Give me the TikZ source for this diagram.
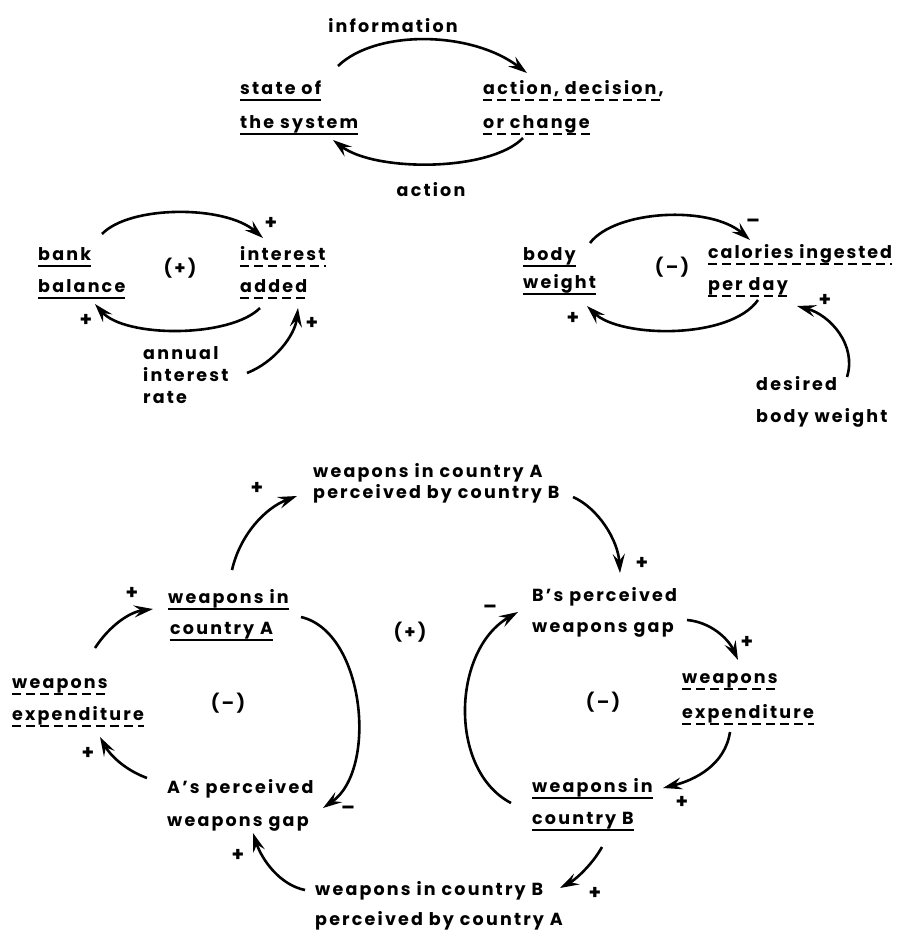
\documentclass[tikz,border=0pt]{standalone}
\usepackage{fontspec}
\setmainfont{Poppins}[LetterSpace=12.5]
\usetikzlibrary{arrows.meta}
\tikzset{
  lbl/.style={inner sep=0pt, anchor=base west, font=\bfseries\fontsize{17.5}{20}\selectfont,
              text height=13pt, text depth=6pt},
  midlbl/.style={lbl, anchor=base},
  loopsign/.style={inner sep=0pt, font=\bfseries\fontsize{18}{20}\selectfont},
  sgn/.style={inner sep=0pt, font=\bfseries\fontsize{20}{20}\selectfont},
  levelline/.style={line width=2.4pt},
  rateline/.style={line width=2.4pt, dash pattern=on 9pt off 5pt},
  link/.style={line width=2.6pt, -{Stealth[length=19pt,width=12pt,inset=7pt]}},
}
\begin{document}
\begin{tikzpicture}[x=1pt,y=-1pt]
\useasboundingbox (0,0) rectangle (898,930);

% ---------- general loop ----------
\node[midlbl] (info) at (393,32) {information};
\node[lbl] (st1) at (240,94) {state of};
\node[lbl] (st2) at (240,128) {the system};
\node[lbl] (ad1) at (483,94) {action, decision,};
\node[lbl] (ad2) at (483,128) {or change};
\node[midlbl] (act) at (431,196) {action};
\draw[levelline] (st1.south west) -- (st1.south east);
\draw[levelline] (st2.south west) -- (st2.south east);
\draw[rateline] (ad1.south west) -- (ad1.south east);
\draw[rateline] (ad2.south west) -- (ad2.south east);
\coordinate (t1s) at (338,66);  \coordinate (t1e) at (527,73);
\coordinate (t2s) at (523,138); \coordinate (t2e) at (333,140);
\draw[link] (t1s) .. controls (375,30) and (470,30) .. (t1e);
\draw[link] (t2s) .. controls (490,172) and (375,172) .. (t2e);

% ---------- bank balance loop ----------
\node[lbl] (bk1) at (38,260) {bank};
\node[lbl] (bk2) at (38,292) {balance};
\node[lbl] (in1) at (240,260) {interest};
\node[lbl] (in2) at (240,292) {added};
\node[loopsign] (lpA) at (180,268) {(+)};
\node[lbl] (an1) at (143,359) {annual};
\node[lbl] (an2) at (143,381) {interest};
\node[lbl] (an3) at (143,403) {rate};
\draw[levelline] (bk1.south west) -- (bk1.south east);
\draw[levelline] (bk2.south west) -- (bk2.south east);
\draw[rateline] (in1.south west) -- (in1.south east);
\draw[rateline] (in2.south west) -- (in2.south east);
\coordinate (b1s) at (102,234); \coordinate (b1e) at (263,238);
\coordinate (b2s) at (260,308); \coordinate (b2e) at (95,304);
\coordinate (b3s) at (247,373); \coordinate (b3e) at (298,308);
\draw[link] (b1s) .. controls (130,205) and (225,205) .. (b1e);
\draw[link] (b2s) .. controls (230,338) and (125,338) .. (b2e);
\draw[link] (b3s) .. controls (275,362) and (295,335) .. (b3e);
\node[sgn] at (271,223) {+};
\node[sgn] at (86,320) {+};
\node[sgn] at (312,323) {+};

% ---------- body weight loop ----------
\node[lbl] (bw1) at (523,260) {body};
\node[lbl] (bw2) at (523,288) {weight};
\node[lbl, font=\bfseries\fontsize{17.5}{20}\selectfont\addfontfeature{LetterSpace=11}] (ca1) at (708,258) {calories ingested};
\node[lbl] (ca2) at (708,290) {per day};
\node[loopsign] (lpB) at (672,267) {(--)};
\node[lbl] (de1) at (756,390) {desired};
\node[lbl] (de2) at (756,422) {body weight};
\draw[levelline] (bw1.south west) -- (bw1.south east);
\draw[levelline] (bw2.south west) -- (bw2.south east);
\draw[rateline] (ca1.south west) -- (ca1.south east);
\draw[rateline] (ca2.south west) -- (ca2.south east);
\coordinate (c1s) at (590,243); \coordinate (c1e) at (750,240);
\coordinate (c2s) at (758,300); \coordinate (c2e) at (587,306);
\coordinate (c3s) at (847,377); \coordinate (c3e) at (797,306);
\draw[link] (c1s) .. controls (615,210) and (710,205) .. (c1e);
\draw[link] (c2s) .. controls (730,340) and (620,338) .. (c2e);
\draw[link] (c3s) .. controls (857,345) and (830,315) .. (c3e);
\node[sgn] at (753,223) {--};
\node[sgn] at (573,318) {+};
\node[sgn] at (825,300) {+};

% ---------- arms race ----------
\node[lbl] (pa1) at (313,477) {weapons in country A};
\node[lbl] (pa2) at (313,498) {perceived by country B};
\node[lbl] (gb1) at (532,601) {B's perceived};
\node[lbl] (gb2) at (532,632) {weapons gap};
\node[lbl] (wa1) at (168,603) {weapons in};
\node[lbl] (wa2) at (170,634) {country A};
\node[lbl] (ea1) at (12,688) {weapons};
\node[lbl] (ea2) at (12,720) {expenditure};
\node[lbl] (ga1) at (167,793) {A's perceived};
\node[lbl] (ga2) at (167,826) {weapons gap};
\node[lbl] (eb1) at (682,683) {weapons};
\node[lbl] (eb2) at (682,718) {expenditure};
\node[lbl] (wb1) at (532,792) {weapons in};
\node[lbl] (wb2) at (532,824) {country B};
\node[lbl] (pb1) at (315,895) {weapons in country B};
\node[lbl] (pb2) at (315,925) {perceived by country A};
\node[loopsign] (lpC) at (410,632) {(+)};
\node[loopsign] (lpD) at (228,703) {(--)};
\node[loopsign] (lpE) at (603,702) {(--)};
\draw[levelline] (wa1.south west) -- (wa1.south east);
\draw[levelline] (wa2.south west) -- (wa2.south east);
\draw[levelline] (wb1.south west) -- (wb1.south east);
\draw[levelline] (wb2.south west) -- (wb2.south east);
\draw[rateline] (ea1.south west) -- (ea1.south east);
\draw[rateline] (ea2.south west) -- (ea2.south east);
\draw[rateline] (eb1.south west) -- (eb1.south east);
\draw[rateline] (eb2.south west) -- (eb2.south east);

\coordinate (r1s) at (232,570); \coordinate (r1e) at (297,496);
\coordinate (r2s) at (573,497); \coordinate (r2e) at (620,573);
\coordinate (r3s) at (511,803); \coordinate (r3e) at (518,612);
\coordinate (r4s) at (95,648);  \coordinate (r4e) at (153,609);
\coordinate (r5s) at (147,778); \coordinate (r5e) at (100,737);
\coordinate (r6s) at (301,617); \coordinate (r6e) at (323,808);
\coordinate (r7s) at (305,890); \coordinate (r7e) at (253,833);
\coordinate (r8s) at (687,620); \coordinate (r8e) at (738,660);
\coordinate (r9s) at (730,732); \coordinate (r9e) at (663,788);
\coordinate (r10s) at (602,847); \coordinate (r10e) at (560,888);
\draw[link] (r1s) .. controls (240,535) and (265,508) .. (r1e);
\draw[link] (r2s) .. controls (598,508) and (618,540) .. (r2e);
\draw[link] (r3s) .. controls (448,770) and (452,650) .. (r3e);
\draw[link] (r4s) .. controls (110,625) and (130,612) .. (r4e);
\draw[link] (r5s) .. controls (125,770) and (110,755) .. (r5e);
\draw[link] (r6s) .. controls (365,632) and (378,770) .. (r6e);
\draw[link] (r7s) .. controls (280,885) and (262,860) .. (r7e);
\draw[link] (r8s) .. controls (710,622) and (728,638) .. (r8e);
\draw[link] (r9s) .. controls (725,765) and (695,780) .. (r9e);
\draw[link] (r10s) .. controls (592,865) and (575,880) .. (r10e);
\node[sgn] at (257,488) {+};
\node[sgn] at (642,563) {+};
\node[sgn] at (490,609) {--};
\node[sgn] at (132,593) {+};
\node[sgn] at (88,753) {+};
\node[sgn] at (348,810) {--};
\node[sgn] at (238,855) {+};
\node[sgn] at (747,642) {+};
\node[sgn] at (682,802) {+};
\node[sgn] at (595,893) {+};
\end{tikzpicture}
\end{document}
